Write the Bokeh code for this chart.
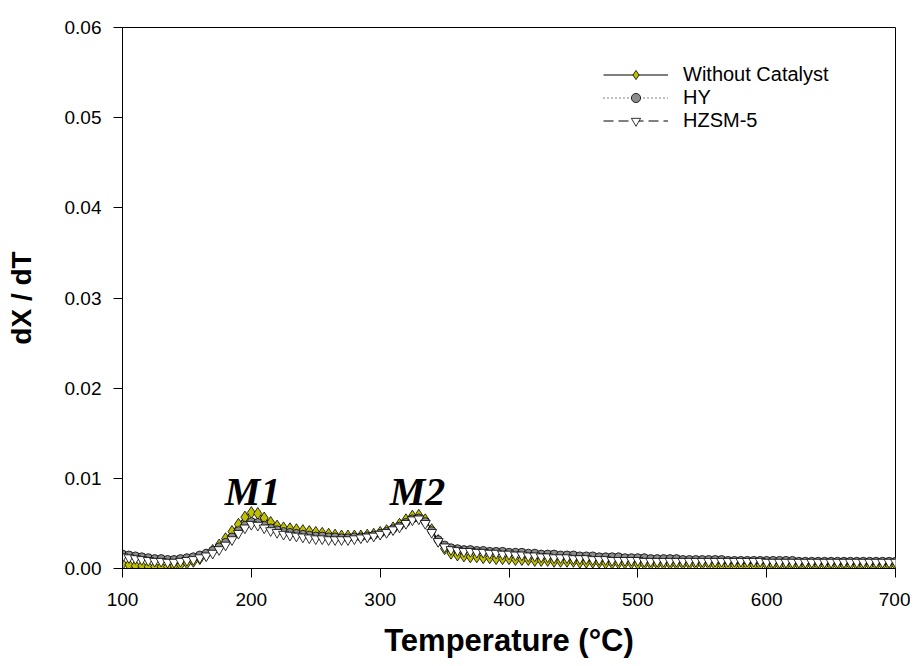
from bokeh.plotting import figure
from bokeh.models import FixedTicker, Legend, LegendItem, NumeralTickFormatter, ColumnDataSource
from bokeh.core.properties import value
from bokeh.embed import file_html
from bokeh.resources import INLINE

temperature = [
    100, 105, 110, 115, 120, 125, 130, 135, 140, 145,
    150, 155, 160, 165, 170, 175, 180, 185, 190, 195,
    200, 205, 210, 215, 220, 225, 230, 235, 240, 245,
    250, 255, 260, 265, 270, 275, 280, 285, 290, 295,
    300, 305, 310, 315, 320, 325, 330, 335, 340, 345,
    350, 355, 360, 365, 370, 375, 380, 385, 390, 395,
    400, 405, 410, 415, 420, 425, 430, 435, 440, 445,
    450, 455, 460, 465, 470, 475, 480, 485, 490, 495,
    500, 505, 510, 515, 520, 525, 530, 535, 540, 545,
    550, 555, 560, 565, 570, 575, 580, 585, 590, 595,
    600, 605, 610, 615, 620, 625, 630, 635, 640, 645,
    650, 655, 660, 665, 670, 675, 680, 685, 690, 695,
    700,
]

without_catalyst = [
    0.0005, 0.0004, 0.0003, 0.0003, 0.0002, 0.0002, 0.0002, 0.0002, 0.0003, 0.0004,
    0.0006, 0.0008, 0.0011, 0.0015, 0.0020, 0.0026, 0.0033, 0.0041, 0.0049, 0.0057,
    0.0062, 0.0061, 0.0056, 0.0051, 0.0047, 0.0045, 0.0044, 0.0043, 0.0042, 0.0041,
    0.0040, 0.0039, 0.0038, 0.0037, 0.0036, 0.0036, 0.0036, 0.0036, 0.0037, 0.0038,
    0.0040, 0.0042, 0.0045, 0.0049, 0.0054, 0.0058, 0.0059, 0.0054, 0.0043, 0.0031,
    0.0022, 0.0017, 0.0015, 0.0014, 0.0013, 0.0013, 0.0012, 0.0012, 0.0011, 0.0011,
    0.0011, 0.0010, 0.0010, 0.0010, 0.0009, 0.0009, 0.0009, 0.0008, 0.0008, 0.0008,
    0.0008, 0.0007, 0.0007, 0.0007, 0.0007, 0.0006, 0.0006, 0.0006, 0.0006, 0.0006,
    0.0005, 0.0005, 0.0005, 0.0005, 0.0005, 0.0005, 0.0005, 0.0005, 0.0005, 0.0005,
    0.0005, 0.0005, 0.0004, 0.0004, 0.0004, 0.0004, 0.0004, 0.0004, 0.0004, 0.0004,
    0.0004, 0.0004, 0.0004, 0.0004, 0.0004, 0.0004, 0.0004, 0.0004, 0.0004, 0.0004,
    0.0004, 0.0004, 0.0004, 0.0004, 0.0004, 0.0004, 0.0004, 0.0004, 0.0004, 0.0004,
    0.0004,
]

hy = [
    0.0016, 0.0015, 0.0014, 0.0013, 0.0012, 0.0011, 0.0011, 0.0010, 0.0010, 0.0011,
    0.0012, 0.0013, 0.0015, 0.0017, 0.0020, 0.0024, 0.0029, 0.0035, 0.0042, 0.0048,
    0.0052, 0.0051, 0.0048, 0.0045, 0.0043, 0.0041, 0.0040, 0.0039, 0.0038, 0.0037,
    0.0036, 0.0036, 0.0035, 0.0035, 0.0034, 0.0034, 0.0035, 0.0035, 0.0036, 0.0037,
    0.0039, 0.0041, 0.0044, 0.0047, 0.0051, 0.0055, 0.0056, 0.0052, 0.0042, 0.0032,
    0.0026, 0.0023, 0.0022, 0.0021, 0.0021, 0.0020, 0.0020, 0.0019, 0.0019, 0.0019,
    0.0018, 0.0018, 0.0018, 0.0017, 0.0017, 0.0016, 0.0016, 0.0016, 0.0015, 0.0015,
    0.0015, 0.0014, 0.0014, 0.0014, 0.0013, 0.0013, 0.0013, 0.0013, 0.0012, 0.0012,
    0.0012, 0.0012, 0.0011, 0.0011, 0.0011, 0.0011, 0.0011, 0.0010, 0.0010, 0.0010,
    0.0010, 0.0010, 0.0010, 0.0010, 0.0009, 0.0009, 0.0009, 0.0009, 0.0009, 0.0009,
    0.0009, 0.0009, 0.0009, 0.0009, 0.0009, 0.0008, 0.0008, 0.0008, 0.0008, 0.0008,
    0.0008, 0.0008, 0.0008, 0.0008, 0.0008, 0.0008, 0.0008, 0.0008, 0.0008, 0.0008,
    0.0008,
]

hzsm5 = [
    0.0013, 0.0012, 0.0011, 0.0010, 0.0009, 0.0008, 0.0008, 0.0007, 0.0007, 0.0008,
    0.0009, 0.0010, 0.0012, 0.0014, 0.0017, 0.0021, 0.0026, 0.0032, 0.0039, 0.0045,
    0.0049, 0.0048, 0.0045, 0.0042, 0.0040, 0.0038, 0.0037, 0.0036, 0.0035, 0.0034,
    0.0033, 0.0033, 0.0032, 0.0032, 0.0032, 0.0032, 0.0033, 0.0034, 0.0035, 0.0036,
    0.0038, 0.0040, 0.0043, 0.0046, 0.0050, 0.0054, 0.0055, 0.0050, 0.0040, 0.0030,
    0.0024, 0.0021, 0.0020, 0.0019, 0.0019, 0.0018, 0.0018, 0.0017, 0.0017, 0.0016,
    0.0016, 0.0015, 0.0015, 0.0014, 0.0014, 0.0013, 0.0013, 0.0012, 0.0012, 0.0012,
    0.0011, 0.0011, 0.0011, 0.0010, 0.0010, 0.0010, 0.0009, 0.0009, 0.0009, 0.0009,
    0.0009, 0.0008, 0.0008, 0.0008, 0.0008, 0.0008, 0.0008, 0.0008, 0.0008, 0.0008,
    0.0008, 0.0008, 0.0008, 0.0008, 0.0008, 0.0008, 0.0008, 0.0008, 0.0008, 0.0008,
    0.0007, 0.0007, 0.0007, 0.0007, 0.0007, 0.0007, 0.0007, 0.0007, 0.0007, 0.0007,
    0.0007, 0.0007, 0.0007, 0.0007, 0.0007, 0.0007, 0.0007, 0.0007, 0.0007, 0.0007,
    0.0007,
]

x_ticks = [100, 200, 300, 400, 500, 600, 700]
y_ticks = [0.00, 0.01, 0.02, 0.03, 0.04, 0.05, 0.06]

peak_labels = ["M1", "M2"]
peak_label_x = [201, 329]
peak_label_y = [0.00855, 0.00855]

series_names = ["Without Catalyst", "HY", "HZSM-5"]

FONT = "Liberation Sans"

p = figure(width=910, height=660, output_backend="svg", toolbar_location=None,
           x_range=(100, 700), y_range=(0, 0.06),
           min_border_left=122, min_border_right=15, min_border_top=27, min_border_bottom=92)
p.xgrid.visible = False
p.ygrid.visible = False
p.outline_line_color = "black"
p.outline_line_width = 1
p.background_fill_color = "white"
p.border_fill_color = "white"

for ax in (p.xaxis[0], p.yaxis[0]):
    ax.axis_line_color = "black"
    ax.major_tick_line_color = "black"
    ax.major_tick_out = 9
    ax.major_tick_in = 0
    ax.minor_tick_line_color = None
    ax.major_label_text_font = FONT
    ax.major_label_text_font_size = "19px"
    ax.major_label_text_color = "black"
    ax.axis_label_text_font = FONT
    ax.axis_label_text_font_style = "bold"
    ax.axis_label_text_color = "black"

p.xaxis[0].ticker = FixedTicker(ticks=x_ticks)
p.yaxis[0].ticker = FixedTicker(ticks=y_ticks)
p.yaxis[0].formatter = NumeralTickFormatter(format="0.00")
p.xaxis[0].axis_label = "Temperature (°C)"
p.yaxis[0].axis_label = "dX / dT"
p.xaxis[0].axis_label_text_font_size = "31px"
p.yaxis[0].axis_label_text_font_size = "28px"
p.xaxis[0].major_label_standoff = 15
p.yaxis[0].major_label_standoff = 12
p.xaxis[0].axis_label_standoff = 14
p.yaxis[0].axis_label_standoff = 25

src = ColumnDataSource(dict(t=temperature, wc=without_catalyst, hy=hy, hz=hzsm5))

l1 = p.line("t", "wc", source=src, line_color="black", line_width=1.2)
s1 = p.scatter("t", "wc", source=src, marker="diamond", size=12,
               fill_color="#C0C000", line_color="black", line_width=0.8)
l2 = p.line("t", "hy", source=src, line_color="black", line_width=1, line_dash="1 3")
s2 = p.scatter("t", "hy", source=src, marker="circle", size=8,
               fill_color="#8C8C8C", line_color="black", line_width=0.8)
l3 = p.line("t", "hz", source=src, line_color="black", line_width=1, line_dash="10 5")
s3 = p.scatter("t", "hz", source=src, marker="inverted_triangle", size=10,
               fill_color="white", line_color="black", line_width=0.8)

p.text(x=peak_label_x, y=peak_label_y, text=peak_labels,
       text_font=value("Liberation Serif"), text_font_style="bold italic",
       text_font_size="40px", text_align="center", text_baseline="alphabetic",
       text_color="black")

legend = Legend(items=[
    LegendItem(label=series_names[0], renderers=[l1, s1]),
    LegendItem(label=series_names[1], renderers=[l2, s2]),
    LegendItem(label=series_names[2], renderers=[l3, s3]),
], location=(481, 436))
legend.border_line_alpha = 0
legend.background_fill_alpha = 0
legend.padding = 0
legend.margin = 0
legend.spacing = 0
legend.glyph_width = 65
legend.glyph_height = 23
legend.label_height = 23
legend.label_standoff = 15
legend.label_text_font = FONT
legend.label_text_font_size = "20px"
legend.label_text_color = "black"
p.add_layout(legend)

open("out.html", "w").write(file_html(p, INLINE))
